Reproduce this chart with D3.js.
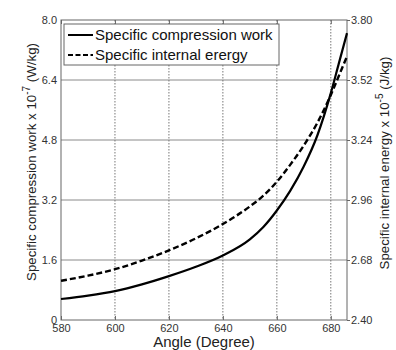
<!DOCTYPE html>
<html>
<head>
<meta charset="utf-8">
<script src="https://cdn.jsdelivr.net/npm/d3@7"></script>
<style>
  body { margin: 0; background: #fff; }
  svg { display: block; font-family: "Liberation Sans", Arial, sans-serif; }
</style>
</head>
<body>
<div id="chart"></div>
<script>
// angle in degrees
var angles = [580, 590, 600, 610, 620, 630, 640, 650, 655, 660, 665, 670, 675, 680, 683, 686];
// specific compression work x 10^-7 (W/kg), left axis
var compressionWork = [0.56, 0.65, 0.77, 0.95, 1.17, 1.42, 1.72, 2.15, 2.48, 2.92, 3.45, 4.10, 4.92, 6.05, 6.85, 7.65];
// specific internal energy x 10^-5 (J/kg), right axis
var internalEnergy = [2.583, 2.607, 2.637, 2.677, 2.725, 2.781, 2.848, 2.930, 2.980, 3.045, 3.125, 3.215, 3.320, 3.450, 3.540, 3.630];

var xTicks = [580, 600, 620, 640, 660, 680];
var leftTicks = [0, 1.6, 3.2, 4.8, 6.4, 8.0];
var rightTicks = [2.40, 2.68, 2.96, 3.24, 3.52, 3.80];
var seriesNames = ["Specific compression work", "Specific internal erergy"];

var width = 396, height = 350;
var margins = {left: 61, right: 49, top: 20, bottom: 30};
var plotW = width - margins.left - margins.right;
var plotH = height - margins.top - margins.bottom;

var svg = d3.select("#chart").append("svg")
    .attr("width", width)
    .attr("height", height);

var xScale = d3.scaleLinear().domain([580, 686]).range([0, plotW]);
var yLeft = d3.scaleLinear().domain([0, 8]).range([plotH, 0]);
var yRight = d3.scaleLinear().domain([2.40, 3.80]).range([plotH, 0]);

var g = svg.append("g")
    .attr("transform", "translate(" + margins.left + "," + margins.top + ")");

// grid: horizontal solid, vertical dotted
g.append("g").selectAll("line")
    .data(leftTicks.slice(1, -1))
    .enter().append("line")
    .attr("x1", 0).attr("x2", plotW)
    .attr("y1", function(d) { return yLeft(d); })
    .attr("y2", function(d) { return yLeft(d); })
    .attr("stroke", "#8a8a8a")
    .attr("stroke-width", 1);

g.append("g").selectAll("line")
    .data(xTicks.slice(1))
    .enter().append("line")
    .attr("x1", function(d) { return xScale(d); })
    .attr("x2", function(d) { return xScale(d); })
    .attr("y1", 0).attr("y2", plotH)
    .attr("stroke", "#777")
    .attr("stroke-width", 1)
    .attr("stroke-dasharray", "1.5,1.5");

// axes
var xAxis = g.append("g")
    .attr("transform", "translate(0," + plotH + ")")
    .call(d3.axisBottom(xScale).tickValues(xTicks).tickSize(-4).tickPadding(4));
var xTop = g.append("g")
    .call(d3.axisTop(xScale).tickValues(xTicks).tickSize(-4).tickFormat(""));
var yAxisL = g.append("g")
    .call(d3.axisLeft(yLeft).tickValues(leftTicks).tickSize(0).tickPadding(4)
        .tickFormat(function(d) { return d === 0 ? "0" : d3.format(".1f")(d); }));
var yAxisR = g.append("g")
    .attr("transform", "translate(" + plotW + ",0)")
    .call(d3.axisRight(yRight).tickValues(rightTicks).tickSize(3).tickPadding(1)
        .tickFormat(d3.format(".2f")));

[xAxis, xTop, yAxisL, yAxisR].forEach(function(a) {
    a.select(".domain").remove();
    a.selectAll(".tick line").attr("stroke", "#666");
    a.selectAll("text").attr("fill", "#333").style("font-size", "11px")
        .style("font-family", "'Liberation Sans', Arial, sans-serif");
});

// frame
g.append("rect")
    .attr("x", 0).attr("y", 0)
    .attr("width", plotW).attr("height", plotH)
    .attr("fill", "none")
    .attr("stroke", "#666")
    .attr("stroke-width", 1);

// series
var lineLeft = d3.line()
    .x(function(d, i) { return xScale(angles[i]); })
    .y(function(d) { return yLeft(d); })
    .curve(d3.curveMonotoneX);
var lineRight = d3.line()
    .x(function(d, i) { return xScale(angles[i]); })
    .y(function(d) { return yRight(d); })
    .curve(d3.curveMonotoneX);

g.append("path")
    .datum(internalEnergy)
    .attr("d", lineRight)
    .attr("fill", "none")
    .attr("stroke", "#000")
    .attr("stroke-width", 2.4)
    .attr("stroke-dasharray", "6,3");

g.append("path")
    .datum(compressionWork)
    .attr("d", lineLeft)
    .attr("fill", "none")
    .attr("stroke", "#000")
    .attr("stroke-width", 2.2);

// legend
var legend = g.append("g").attr("transform", "translate(3,4)");
legend.append("rect")
    .attr("width", 215).attr("height", 41)
    .attr("fill", "#fff")
    .attr("stroke", "#666");
seriesNames.forEach(function(name, i) {
    var y = 11 + i * 20;
    legend.append("line")
        .attr("x1", 4).attr("x2", 29)
        .attr("y1", y).attr("y2", y)
        .attr("stroke", "#000")
        .attr("stroke-width", 2)
        .attr("stroke-dasharray", i === 1 ? "5,2.5" : null);
    legend.append("text")
        .attr("x", 31).attr("y", y + 5)
        .attr("fill", "#111")
        .style("font-size", "15px")
        .text(name);
});

// axis titles
svg.append("text")
    .attr("x", 204).attr("y", 347)
    .attr("text-anchor", "middle")
    .attr("fill", "#222")
    .style("font-size", "15px")
    .text("Angle (Degree)");

var leftTitle = svg.append("text")
    .attr("transform", "translate(36,162) rotate(-90)")
    .attr("text-anchor", "middle")
    .attr("fill", "#222")
    .style("font-size", "13.3px");
leftTitle.append("tspan").text("Specific compression work x 10");
leftTitle.append("tspan").attr("dy", -6).style("font-size", "10px").text("-7");
leftTitle.append("tspan").attr("dy", 6).text(" (W/kg)");

var rightTitle = svg.append("text")
    .attr("transform", "translate(389,163) rotate(-90)")
    .attr("text-anchor", "middle")
    .attr("fill", "#222")
    .style("font-size", "13.3px");
rightTitle.append("tspan").text("Specific internal energy x 10");
rightTitle.append("tspan").attr("dy", -6).style("font-size", "10px").text("-5");
rightTitle.append("tspan").attr("dy", 6).text(" (J/kg)");
</script>
</body>
</html>
